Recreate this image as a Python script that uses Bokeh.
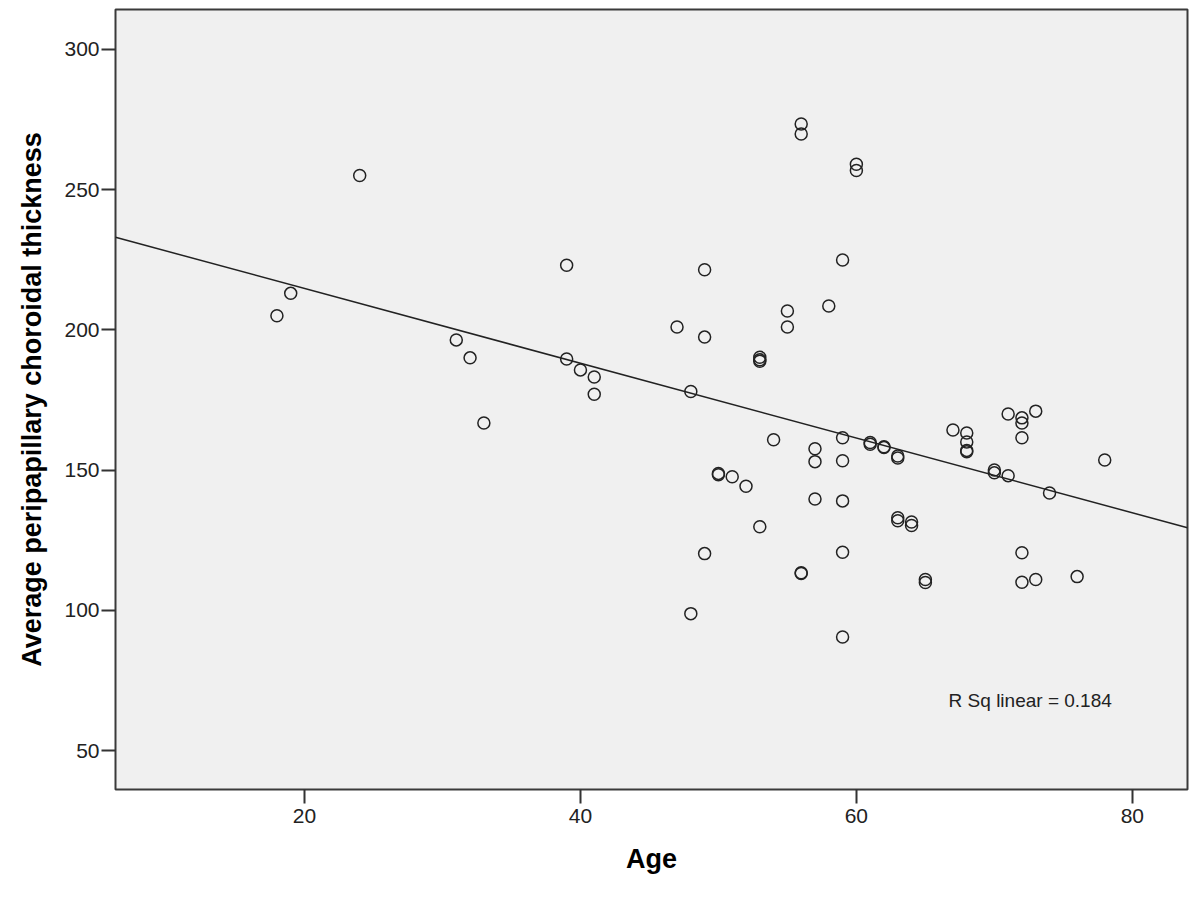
from bokeh.plotting import figure
from bokeh.models import FixedTicker, Label, ColumnDataSource
from bokeh.embed import file_html
from bokeh.resources import INLINE

# ---- data ----
age = [18, 19, 24, 31, 32, 33, 39, 39, 40, 41, 41, 47, 48, 48, 49, 49, 49,
       50, 50, 51, 52, 53, 53, 53, 53, 54, 55, 55, 56, 56, 56, 56, 57, 57, 57,
       58, 59, 59, 59, 59, 59, 59, 60, 60, 61, 61, 62, 62, 63, 63, 63, 63,
       64, 64, 65, 65, 67, 68, 68, 68, 68, 70, 70, 71, 71, 72, 72, 72, 72,
       72, 73, 73, 74, 76, 78]
thickness = [205, 213, 255, 196.4, 190, 166.8, 223, 189.6, 185.7, 183.2, 177,
             201, 178, 98.8, 221.4, 197.4, 120.2,
             148.8, 148.3, 147.6, 144.2, 190.2, 189.3, 188.8, 129.8, 160.8,
             206.7, 201, 273.4, 269.8, 113.4, 113.1, 157.6, 153, 139.7,
             208.5, 224.9, 161.5, 153.3, 139, 120.7, 90.5, 259, 256.8,
             159.8, 159.2, 158.3, 158, 155, 154.3, 133, 131.9,
             131.5, 130.2, 111, 109.9, 164.3, 163.2, 160, 157, 156.5,
             150, 149, 170, 148, 168.6, 166.8, 161.5, 120.5, 110,
             171, 111, 141.8, 112, 153.6]

fit_intercept = 241.4
fit_slope = -1.333
r_sq_text = "R Sq linear = 0.184"

x_ticks = [20, 40, 60, 80]
y_ticks = [50, 100, 150, 200, 250, 300]

x_start, x_end = 6.3, 84.0
y_start, y_end = 36.1, 314.2

p = figure(width=1192, height=892, output_backend="svg", toolbar_location=None,
           x_range=(x_start, x_end), y_range=(y_start, y_end),
           min_border_left=115, min_border_right=5, min_border_top=9,
           min_border_bottom=103)

p.background_fill_color = "#F0F0F0"
p.border_fill_color = "white"
p.outline_line_color = "#3a3a3a"
p.outline_line_width = 2
p.grid.visible = False

for ax in (p.xaxis, p.yaxis):
    ax.axis_line_color = None
    ax.major_tick_line_color = "#333333"
    ax.major_tick_line_width = 2
    ax.major_tick_out = 14
    ax.major_tick_in = 0
    ax.minor_tick_line_color = None
    ax.major_label_text_font = "Liberation Sans"
    ax.major_label_text_font_size = "21px"
    ax.major_label_text_color = "#222222"
    ax.axis_label_text_font = "Liberation Sans"
    ax.axis_label_text_font_style = "bold"
    ax.axis_label_text_color = "black"

p.xaxis.ticker = FixedTicker(ticks=x_ticks)
p.yaxis.ticker = FixedTicker(ticks=y_ticks)
p.xaxis.major_label_standoff = 5
p.yaxis.major_label_standoff = 2
p.xaxis.axis_label = "Age"
p.yaxis.axis_label = "Average peripapillary choroidal thickness"
p.xaxis.axis_label_text_font_size = "27px"
p.yaxis.axis_label_text_font_size = "27px"
p.xaxis.axis_label_standoff = 18
p.yaxis.axis_label_standoff = 14

# regression line over full x range
lx = [x_start, x_end]
ly = [fit_intercept + fit_slope * v for v in lx]
p.line(lx, ly, line_color="#222222", line_width=1.5)

src = ColumnDataSource(dict(x=age, y=thickness))
p.scatter("x", "y", source=src, marker="circle", size=12,
          fill_color=None, line_color="#222222", line_width=1.5)

p.add_layout(Label(x=72.6, y=67.8, text=r_sq_text, text_align="center",
                   text_baseline="middle", text_font="Liberation Sans",
                   text_font_size="19px", text_color="#222222"))

open("out.html", "w").write(file_html(p, INLINE))
